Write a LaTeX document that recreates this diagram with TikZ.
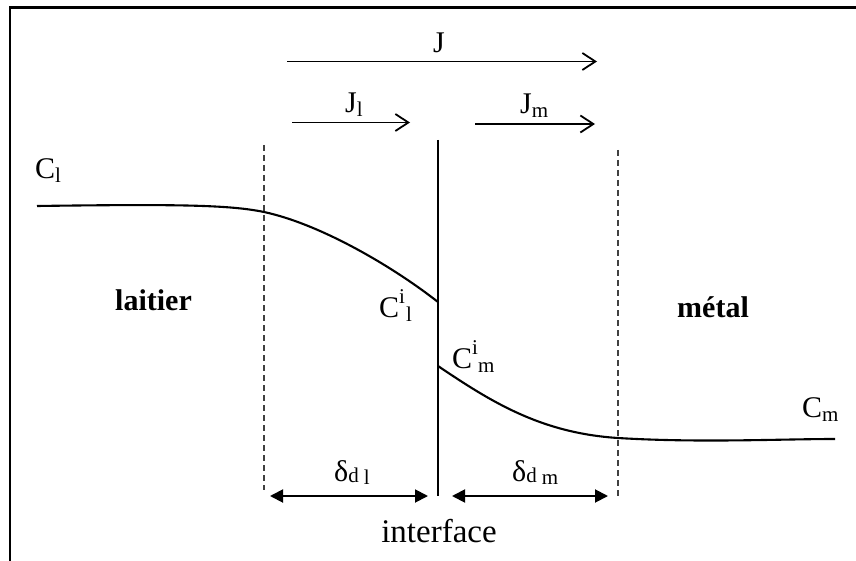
\documentclass[tikz,border=0pt]{standalone}
\usepackage{fontspec}
\setmainfont{Liberation Serif}
\usetikzlibrary{arrows.meta}
\newcommand{\smallfs}{\fontsize{21}{21}\selectfont}
\newcommand{\lowsub}[2][-5pt]{\raisebox{#1}{\smallfs #2}}
\newcommand{\highsup}[1]{\rlap{\raisebox{14pt}{\smallfs #1}}}
\begin{document}
\begin{tikzpicture}[x=1pt,y=-1pt,
  lbl/.style={inner sep=0pt, anchor=base west, font=\fontsize{30}{36}\selectfont},
  flux/.style={line width=1.8pt, -{Straight Barb[length=13pt,width=17pt,line width=1.8pt]}},
  dim/.style={line width=1.9pt, {Triangle[length=13pt,width=13pt]}-{Triangle[length=13pt,width=13pt]}},
  bound/.style={dash pattern=on 6pt off 4pt, line width=1.3pt, black!75},
  curve/.style={line width=2.1pt},
  frame/.style={line width=2.2pt}]
\useasboundingbox (0,0) rectangle (856,561);
% frame
\draw[frame] (856,7.5) -- (10,7.5) -- (10,561);
% boundaries
\coordinate (dlt) at (264,145); \coordinate (dlb) at (264,490);
\coordinate (drt) at (618,150); \coordinate (drb) at (618,496);
\coordinate (it) at (438,140); \coordinate (ib) at (438,496);
\draw[bound] (dlt) -- (dlb);
\draw[bound] (drt) -- (drb);
\draw[curve] (it) -- (ib);
% concentration curves
\coordinate (c0) at (37,206);
\coordinate (c1) at (264,212);
\coordinate (c2) at (438,302);
\coordinate (c3) at (438,366);
\coordinate (c4) at (618,438);
\coordinate (c5) at (835,439);
\draw[curve] (c0) .. controls (180,204) and (230,205) .. (c1)
  .. controls (320,224) and (392,266) .. (c2);
\draw[curve] (c3) .. controls (490,401) and (540,433) .. (c4)
  .. controls (700,443) and (780,439) .. (c5);
% flux arrows
\coordinate (ja) at (287,61.5); \coordinate (jb) at (597,61.5);
\coordinate (jla) at (292,122.5); \coordinate (jlb) at (410,122.5);
\coordinate (jma) at (475,124); \coordinate (jmb) at (595,124);
\draw[flux] (ja) -- (jb);
\draw[flux] (jla) -- (jlb);
\draw[flux] (jma) -- (jmb);
% dimension arrows
\coordinate (la) at (270,496); \coordinate (lb) at (428,496);
\coordinate (ra) at (452,496); \coordinate (rb) at (608,496);
\draw[dim] (la) -- (lb);
\draw[dim] (ra) -- (rb);
% labels
\node[lbl] (tJ) at (433,53) {J};
\node[lbl] (tJl) at (345,113) {J\lowsub[-4pt]{l}};
\node[lbl] (tJm) at (520,114) {J\lowsub[-4pt]{m}};
\node[lbl] (tCl) at (35,179) {C\lowsub[-4pt]{l}};
\node[lbl] (tCm) at (802,417) {C\lowsub[-4pt]{m}};
\node[lbl] (tlait) at (115,310) {\bfseries laitier};
\node[lbl] (tmet) at (677,317) {\bfseries métal};
\node[lbl] (tCil) at (379,317) {C\highsup{i}\hspace{7pt}\lowsub[-4pt]{l}};
\node[lbl] (tCim) at (452,368) {C\highsup{i}\hspace{6pt}\lowsub[-4pt]{m}};
\node[lbl] (tdl) at (334,481) {δ\lowsub[-1pt]{d}\,\lowsub[-3pt]{l}};
\node[lbl] (tdm) at (512,481) {δ\lowsub[-1pt]{d}\,\lowsub[-3pt]{m}};
\node[lbl, anchor=base, font=\fontsize{33}{38}\selectfont] (tint) at (439,542) {interface};
\end{tikzpicture}
\end{document}
